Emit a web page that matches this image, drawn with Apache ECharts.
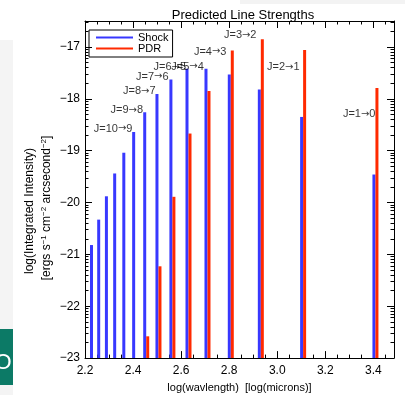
<!DOCTYPE html>
<html>
<head>
<meta charset="utf-8">
<script src="https://cdn.jsdelivr.net/npm/echarts@6/dist/echarts.min.js"></script>
<style>
    html, body { margin: 0; background: #fff; }
    #chart { width: 405px; height: 398px; }
</style>
</head>
<body>
<div id="chart"></div>
<script>
    // CO lines J=15->14 ... J=1->0, log10 of wavelength in microns
    const logWavelength = [2.2395, 2.2695, 2.3016, 2.336, 2.374, 2.415, 2.461, 2.512, 2.570, 2.637, 2.716, 2.813, 2.938, 3.114, 3.415];
    const shockIntensity = [-20.82, -20.33, -19.88, -19.44, -19.04, -18.64, -18.26, -17.91, -17.63, -17.42, -17.42, -17.53, -17.82, -18.35, -19.46];
    const pdrIntensity = [null, null, null, null, null, null, -22.58, -21.23, -19.89, -18.67, -17.85, -17.07, -16.85, -17.06, -17.79];

    // transition labels and where they sit (data units)
    const lineLabels = ['J=10→9', 'J=9→8', 'J=8→7', 'J=7→6', 'J=6→5', 'J=5→4', 'J=4→3', 'J=3→2', 'J=2→1', 'J=1→0'];
    const labelX = [2.317, 2.374, 2.426, 2.480, 2.553, 2.627, 2.721, 2.846, 3.025, 3.341];
    const labelY = [-18.58, -18.22, -17.85, -17.57, -17.39, -17.38, -17.09, -16.77, -17.39, -18.30];

    const xTicks = [2.2, 2.4, 2.6, 2.8, 3.0, 3.2, 3.4];
    const yTicks = [-23, -22, -21, -20, -19, -18, -17];

    const X_MIN = 2.2, X_MAX = 3.486, Y_MIN = -23, Y_MAX = -16.5;
    const FONT = '"Liberation Sans", Arial, sans-serif';
    const BLUE = '#3838ff', RED = '#ff2a00';

    // minor ticks: every 0.05 on x, log-style inside each decade on y
    const xMinor = [];
    for (let i = 0; 2.2 + i * 0.05 < X_MAX; i++) xMinor.push(+(2.2 + i * 0.05).toFixed(2));
    const yMinor = [];
    for (let d = Y_MIN; d < Y_MAX; d++) {
        for (let k = 2; k <= 9; k++) {
            const v = d + Math.log10(k);
            if (v < Y_MAX) yMinor.push(v);
        }
    }

    function xAxisOf(position, ticks, len, main) {
        return {
            type: 'value', position: position, min: X_MIN, max: X_MAX,
            splitLine: { show: false },
            axisLine: { show: main, onZero: false, lineStyle: { color: '#000', width: 1 } },
            axisTick: { inside: true, length: len, customValues: ticks, lineStyle: { color: '#000' } },
            axisLabel: position === 'bottom' && main ? {
                customValues: xTicks, formatter: v => v.toFixed(1), margin: 7,
                color: '#000', fontSize: 12, fontFamily: FONT
            } : { show: false },
            name: position === 'bottom' && main ? 'log(wavlength)  [log(microns)]' : '',
            nameLocation: 'middle', nameGap: 18,
            nameTextStyle: { color: '#000', fontSize: 11, fontFamily: FONT }
        };
    }

    function yAxisOf(position, ticks, len, main) {
        return {
            type: 'value', position: position, min: Y_MIN, max: Y_MAX,
            splitLine: { show: false },
            axisLine: { show: main, onZero: false, lineStyle: { color: '#000', width: 1 } },
            axisTick: { inside: true, length: len, customValues: ticks, lineStyle: { color: '#000' } },
            axisLabel: position === 'left' && main ? {
                customValues: yTicks, formatter: v => '\u2212' + Math.abs(v), margin: 5,
                color: '#000', fontSize: 12, fontFamily: FONT
            } : { show: false }
        };
    }

    function barRenderer(dx) {
        return function (params, api) {
            const top = api.coord([api.value(0), api.value(1)]);
            const base = api.coord([api.value(0), Y_MIN]);
            return {
                type: 'rect',
                shape: { x: top[0] + dx, y: top[1], width: 3, height: base[1] - top[1] },
                style: { fill: api.visual('color') }
            };
        };
    }

    const shockData = logWavelength.map((x, i) => [x, shockIntensity[i]]);
    const pdrData = logWavelength.map((x, i) => [x, pdrIntensity[i]]).filter(d => d[1] !== null);
    const labelData = lineLabels.map((t, i) => [labelX[i], labelY[i], t]);

    const config = {
        animation: false,
        title: {
            text: 'Predicted Line Strengths',
            left: 238, top: 4, textAlign: 'center',
            textStyle: { color: '#000', fontSize: 13, fontWeight: 'normal', fontFamily: FONT }
        },
        legend: {
            left: 89, top: 30, orient: 'vertical',
            data: [{ name: 'Shock', icon: 'rect' }, { name: 'PDR', icon: 'rect' }],
            itemWidth: 37, itemHeight: 2, itemGap: 0, itemTextGap: 7,
            padding: [2, 4, 3, 7],
            borderColor: '#000', borderWidth: 1,
            selectedMode: false,
            textStyle: { color: '#000', fontSize: 11, lineHeight: 9, fontFamily: FONT }
        },
        grid: { left: 85, right: 11, top: 21, bottom: 35 },
        xAxis: [
            xAxisOf('bottom', xTicks, 7, true),
            xAxisOf('bottom', xMinor, 3.5, false),
            xAxisOf('top', xTicks, 7, true),
            xAxisOf('top', xMinor, 3.5, false)
        ],
        yAxis: [
            yAxisOf('left', yTicks, 7, true),
            yAxisOf('left', yMinor, 3.5, false),
            yAxisOf('right', yTicks, 7, true),
            yAxisOf('right', yMinor, 3.5, false)
        ],
        graphic: [
            { type: 'rect', shape: { x: 0, y: 40, width: 13, height: 355 }, style: { fill: '#f4f4f4' }, silent: true, z: -10 },
            { type: 'rect', shape: { x: 0, y: 329, width: 13, height: 56 }, style: { fill: '#0c7a66' }, silent: true, z: -9 },
            { type: 'text', x: 3, y: 363, style: { text: 'O', fill: '#fff', fontSize: 22, fontFamily: FONT, align: 'center', verticalAlign: 'middle' }, silent: true, z: -8 },
            { type: 'rect', shape: { x: 240, y: 0, width: 165, height: 4 }, style: { fill: '#f3f3f3' }, silent: true, z: -10 },
            {
                type: 'text', x: 30, y: 211, rotation: Math.PI / 2,
                style: { text: 'log(Integrated Intensity)', fill: '#000', fontSize: 12, fontFamily: FONT, align: 'center', verticalAlign: 'middle' }
            },
            {
                type: 'text', x: 47, y: 208, rotation: Math.PI / 2,
                style: {
                    text: '[ergs s{sup|\u22121} cm{sup|\u22122} arcsecond{sup|\u22122}]',
                    fill: '#000', fontSize: 12, fontFamily: FONT, align: 'center', verticalAlign: 'middle',
                    lineHeight: 15,
                    rich: { sup: { fontSize: 8, fontFamily: FONT, fill: '#000', verticalAlign: 'top', lineHeight: 15 } }
                }
            }
        ],
        series: [
            {
                name: 'Shock', type: 'custom', xAxisIndex: 0, yAxisIndex: 0,
                itemStyle: { color: BLUE }, renderItem: barRenderer(-4.5), data: shockData, clip: true
            },
            {
                name: 'PDR', type: 'custom', xAxisIndex: 0, yAxisIndex: 0,
                itemStyle: { color: RED }, renderItem: barRenderer(-1.5), data: pdrData, clip: true
            },
            {
                type: 'scatter', symbolSize: 0, silent: true, z: 5,
                data: labelData,
                label: {
                    show: true, position: 'inside',
                    formatter: p => p.data[2].replace('→', '{a|→}'),
                    color: '#000', fontSize: 11, fontFamily: FONT,
                    rich: { a: { fontFamily: '"DejaVu Sans"', fontSize: 10, color: '#000' } }
                }
            }
        ]
    };

    echarts.init(document.getElementById('chart')).setOption(config);
</script>
</body>
</html>
